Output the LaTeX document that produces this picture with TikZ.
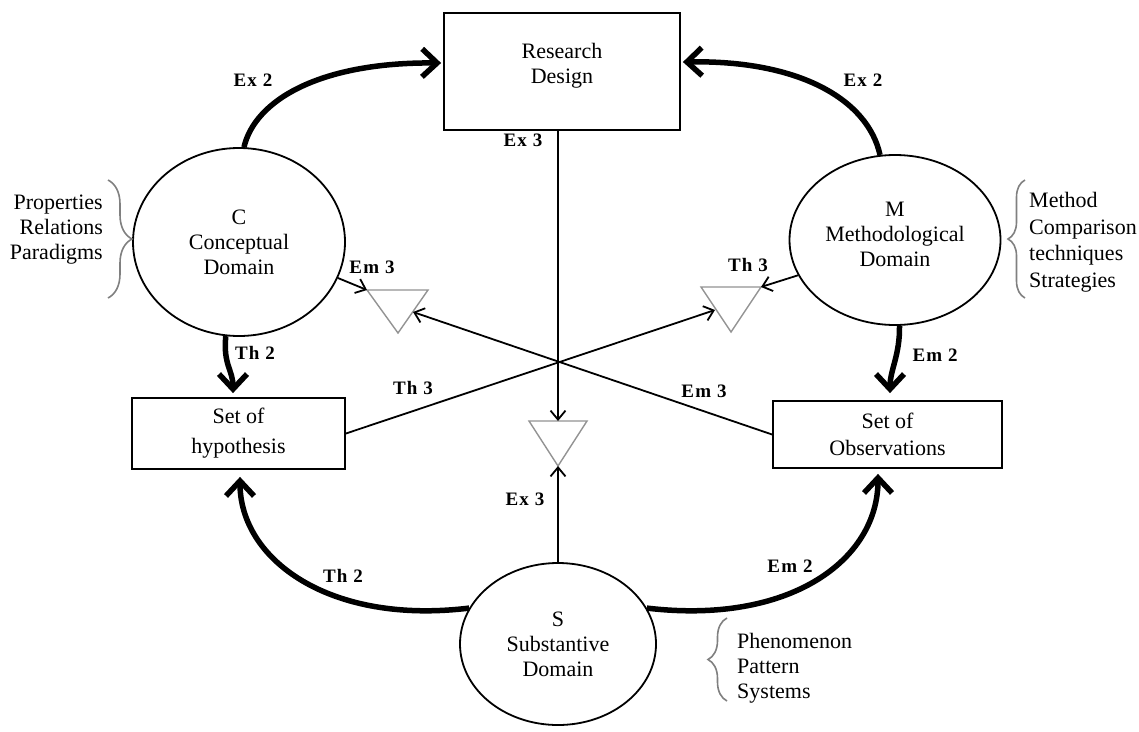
\documentclass[tikz,border=0pt]{standalone}
\usepackage{fontspec}
\setmainfont{Liberation Serif}
\usetikzlibrary{shapes.geometric,arrows.meta,decorations.pathreplacing,calc}
\begin{document}
\begin{tikzpicture}[x=1pt,y=-1pt,
  mainfs/.style={font=\fontsize{22}{25}\selectfont},
  txt/.style={mainfs, inner sep=0pt},
  lbl/.style={font=\fontsize{19}{21}\selectfont\bfseries\addfontfeatures{LetterSpace=6}, inner sep=0pt},
  dom/.style={ellipse, draw, line width=1.8pt, inner sep=0pt, align=center, mainfs},
  box/.style={rectangle, draw, line width=1.8pt, inner sep=0pt, align=center, mainfs},
  thickarc/.style={line width=5.5pt, -{Straight Barb[length=15pt,width=28pt]}},
  thinarr/.style={line width=1.8pt, -{Straight Barb[length=9pt,width=15pt]}},
  tri/.style={draw=gray!85, line width=1.4pt, line join=miter},
  br/.style={draw=gray, line width=1.6pt, decorate, decoration={brace, amplitude=#1}},
]
\useasboundingbox[fill=white] (0,0) rectangle (1139,731);

% main nodes
\node[box, minimum width=236pt, minimum height=117pt] (RD) at (562,71.5) {};
\node[txt, align=center] (RDt) at (562,65.5) {Research\\Design};
\node[dom, minimum width=212pt, minimum height=188pt] (C) at (239,242) {C\\Conceptual\\Domain};
\node[dom, minimum width=211pt, minimum height=170pt] (M) at (895,240) {};
\node[txt, align=center] (Mt) at (895,234) {M\\Methodological\\Domain};
\node[dom, minimum width=196pt, minimum height=162pt] (S) at (558,644) {S\\Substantive\\Domain};
\node[box, minimum width=213pt, minimum height=71pt] (H) at (238.5,433.5) {Set of\\[5pt]hypothesis};
\node[box, minimum width=229pt, minimum height=67pt] (O) at (887.5,434.5) {Set of\\[2pt]Observations};

% triangles
\coordinate (L1) at (367,290); \coordinate (L2) at (428,290); \coordinate (L3) at (398,333);
\coordinate (R1) at (701,287); \coordinate (R2) at (761,287); \coordinate (R3) at (731,332);
\coordinate (B1) at (529,421); \coordinate (B2) at (587,421); \coordinate (B3) at (558,466);
\draw[tri] (L1) -- (L2) -- (L3) -- cycle;
\draw[tri] (R1) -- (R2) -- (R3) -- cycle;
\draw[tri] (B1) -- (B2) -- (B3) -- cycle;
\coordinate (Lin) at (413,312);
\coordinate (Rin) at (715,310);
\coordinate (Btop) at (558,421);

% thick arcs
\draw[thickarc] (C.87) .. controls (255,100) and (320,62) .. ($(RD.west)+(-2,-8.5)$);
\draw[thickarc] (M.100) .. controls (868,100) and (800,60) .. ($(RD.east)+(2,-9.5)$);
\draw[thickarc] (C.-98) .. controls (223,365) and (233,370) .. ($(H.north)+(-5.5,-4)$);
\draw[thickarc] (M.-87) .. controls (900,355) and (890,370) .. ($(O.north)+(2.5,-7)$);
\draw[thickarc] (S.158) .. controls (330,625) and (240,560) .. ($(H.south)+(1.5,7)$);
\draw[thickarc] (S.22) .. controls (790,625) and (878,560) .. ($(O.south)+(-9.5,5)$);

% thin connectors
\draw[thinarr] (H.east) -- (Rin);
\draw[thinarr] (O.west) -- (Lin);
\draw[thinarr] (C.-20) -- (L1);
\draw[thinarr] (M.200) -- (R2);
\draw[thinarr] (RD.south -| Btop) -- (Btop);
\draw[thinarr] (S.north) -- (B3);

% braces and side texts
\draw[br=24] (108,180) -- (108,298);
\draw[br=17] (1025,298) -- (1025,180);
\draw[br=19] (727,701) -- (727,618);
\node[txt, align=right, anchor=east] (Ct) at (103,230) {Properties\\Relations\\Paradigms};
\node[txt, align=left, anchor=west, font=\fontsize{22}{26.5}\selectfont] (Mside) at (1029,242) {Method\\Comparison\\techniques\\Strategies};
\node[txt, align=left, anchor=west] (Sside) at (737,668) {Phenomenon\\Pattern\\Systems};

% labels
\node[lbl] (a1) at (253,80) {Ex 2};
\node[lbl] (a2) at (863,80) {Ex 2};
\node[lbl] (a3) at (523,140) {Ex 3};
\node[lbl] (a4) at (372,267) {Em 3};
\node[lbl] (a5) at (748,265) {Th 3};
\node[lbl] (a6) at (255,353) {Th 2};
\node[lbl] (a7) at (935,355) {Em 2};
\node[lbl] (a8) at (413,388) {Th 3};
\node[lbl] (a9) at (704,391) {Em 3};
\node[lbl] (a10) at (525,499) {Ex 3};
\node[lbl] (a11) at (343,576) {Th 2};
\node[lbl] (a12) at (790,566) {Em 2};
\end{tikzpicture}
\end{document}
